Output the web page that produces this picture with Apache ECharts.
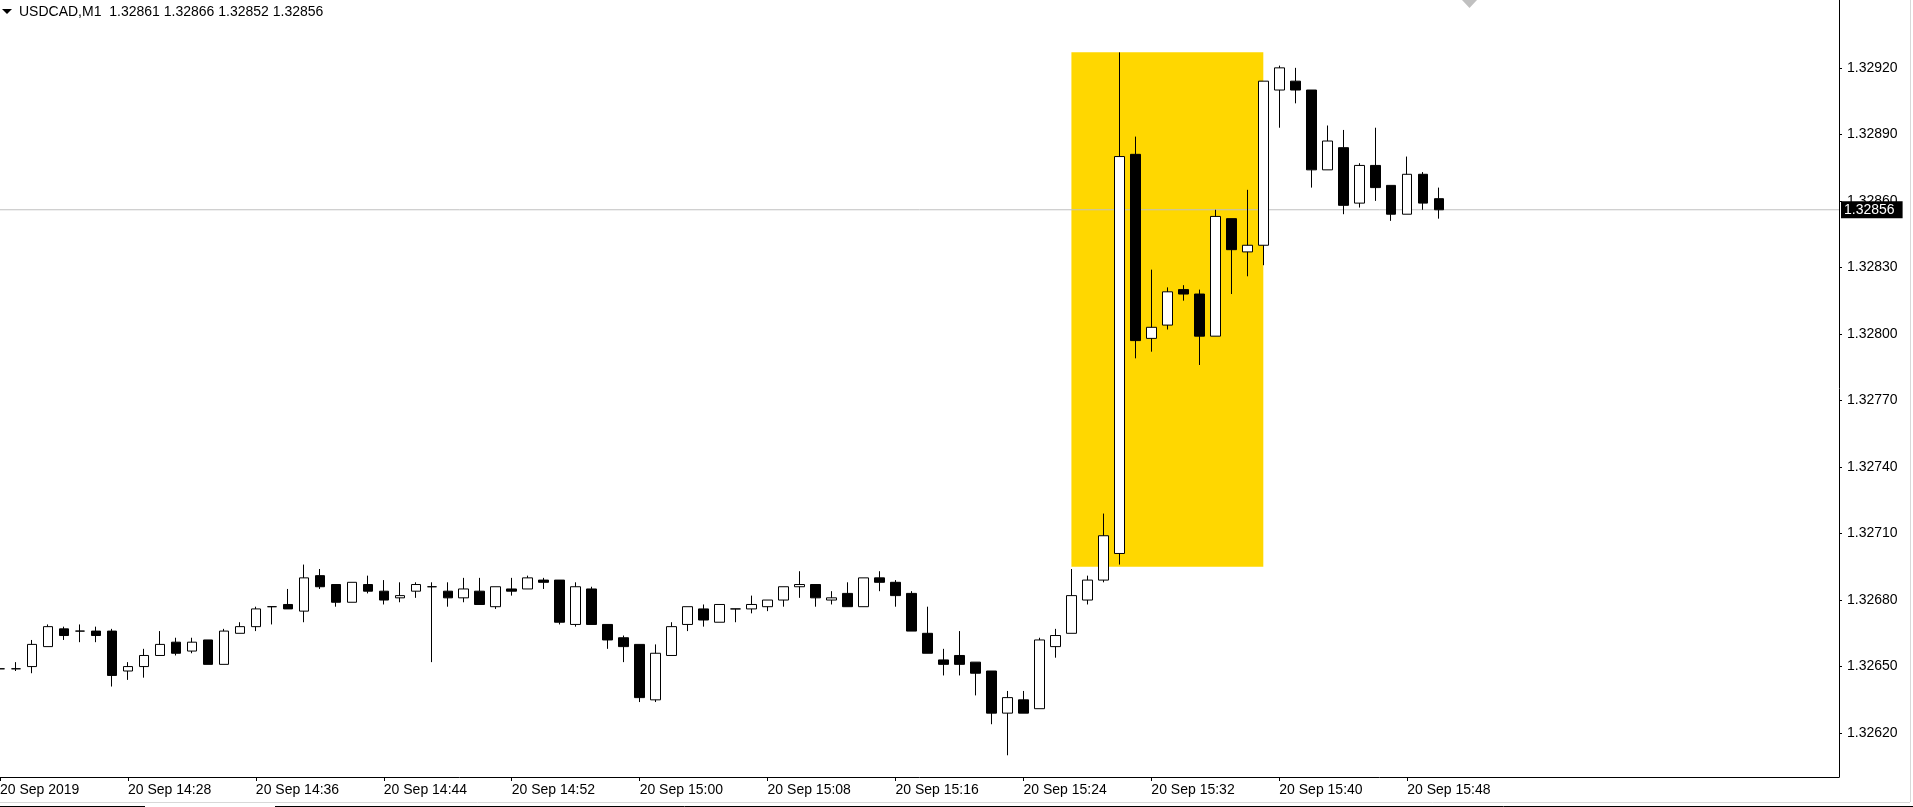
<!DOCTYPE html>
<html><head><meta charset="utf-8">
<script src="https://cdn.jsdelivr.net/npm/echarts@6/dist/echarts.min.js"></script>
<style>html,body{margin:0;padding:0;background:#fff;overflow:hidden}#c{width:1913px;height:807px}</style>
</head><body><div id="c"></div>
<script>
const symbolName = 'USDCAD,M1';
const datePrefix = '20 Sep';
const firstLabel = '20 Sep 2019';

const times = [
'14:20','14:21','14:22','14:23','14:24','14:25','14:26','14:27','14:28','14:29',
'14:30','14:31','14:32','14:33','14:34','14:35','14:36','14:37','14:38','14:39',
'14:40','14:41','14:42','14:43','14:44','14:45','14:46','14:47','14:48','14:49',
'14:50','14:51','14:52','14:53','14:54','14:55','14:56','14:57','14:58','14:59',
'15:00','15:01','15:02','15:03','15:04','15:05','15:06','15:07','15:08','15:09',
'15:10','15:11','15:12','15:13','15:14','15:15','15:16','15:17','15:18','15:19',
'15:20','15:21','15:22','15:23','15:24','15:25','15:26','15:27','15:28','15:29',
'15:30','15:31','15:32','15:33','15:34','15:35','15:36','15:37','15:38','15:39',
'15:40','15:41','15:42','15:43','15:44','15:45','15:46','15:47','15:48','15:49',
'15:50','15:51','15:52','15:53','15:54','15:55','15:56','15:57','15:58','15:59',
'16:00','16:01','16:02','16:03','16:04','16:05','16:06','16:07','16:08','16:09',
'16:10','16:11','16:12','16:13','16:14','16:15'
];

const openP = [
1.32649,1.32649,1.32650,1.32659,1.32667,1.32666,1.32666,1.32666,1.32648,1.32650,
1.32655,1.32661,1.32657,1.32662,1.32651,1.32665,1.32668,1.32677,1.32678,1.32675,
1.32691,1.32687,1.32679,1.32687,1.32684,1.32681,1.32684,1.32686,1.32684,1.32681,
1.32684,1.32677,1.32685,1.32685,1.32689,1.32689,1.32669,1.32685,1.32669,1.32663,
1.32660,1.32635,1.32655,1.32669,1.32676,1.32670,1.32676,1.32676,1.32677,1.32680,
1.32686,1.32687,1.32680,1.32683,1.32677,1.32690,1.32688,1.32683,1.32665,1.32653,
1.32655,1.32652,1.32648,1.32629,1.32635,1.32631,1.32659,1.32665,1.32680,1.32689,
1.32701,1.32881,1.32798,1.32804,1.32820,1.32818,1.32799,1.32852,1.32837,1.32840,
1.32910,1.32914,1.32910,1.32874,1.32884,1.32859,1.32876,1.32867,1.32854,1.32872,
1.32861
];
const highP = [
1.32649,1.32652,1.32662,1.32669,1.32668,1.32669,1.32668,1.32667,1.32652,1.32658,
1.32666,1.32663,1.32663,1.32662,1.32667,1.32670,1.32677,1.32677,1.32685,1.32696,
1.32694,1.32687,1.32688,1.32691,1.32689,1.32688,1.32688,1.32688,1.32688,1.32690,
1.32690,1.32686,1.32690,1.32691,1.32690,1.32689,1.32688,1.32686,1.32669,1.32664,
1.32660,1.32660,1.32670,1.32677,1.32678,1.32678,1.32676,1.32682,1.32680,1.32686,
1.32693,1.32687,1.32684,1.32688,1.32690,1.32693,1.32689,1.32684,1.32677,1.32658,
1.32666,1.32652,1.32648,1.32639,1.32639,1.32663,1.32667,1.32694,1.32691,1.32719,
1.32927,1.32889,1.32829,1.32821,1.32822,1.32820,1.32856,1.32852,1.32865,1.32914,
1.32921,1.32920,1.32910,1.32894,1.32892,1.32877,1.32893,1.32867,1.32880,1.32873,
1.32866
];
const lowP = [
1.32649,1.32648,1.32647,1.32659,1.32662,1.32661,1.32661,1.32641,1.32644,1.32645,
1.32655,1.32655,1.32656,1.32651,1.32651,1.32665,1.32666,1.32669,1.32676,1.32670,
1.32685,1.32677,1.32679,1.32683,1.32678,1.32679,1.32681,1.32652,1.32677,1.32679,
1.32678,1.32676,1.32682,1.32685,1.32685,1.32669,1.32668,1.32669,1.32658,1.32652,
1.32634,1.32634,1.32655,1.32666,1.32668,1.32670,1.32670,1.32674,1.32675,1.32677,
1.32681,1.32677,1.32678,1.32677,1.32677,1.32684,1.32677,1.32666,1.32656,1.32646,
1.32646,1.32637,1.32624,1.32610,1.32629,1.32631,1.32654,1.32665,1.32678,1.32688,
1.32696,1.32789,1.32792,1.32802,1.32815,1.32786,1.32799,1.32818,1.32826,1.32831,
1.32893,1.32904,1.32866,1.32874,1.32854,1.32857,1.32860,1.32851,1.32854,1.32856,
1.32852
];
const closeP = [
1.32649,1.32649,1.32660,1.32668,1.32664,1.32666,1.32664,1.32646,1.32650,1.32655,
1.32660,1.32656,1.32661,1.32651,1.32666,1.32668,1.32676,1.32677,1.32676,1.32690,
1.32686,1.32679,1.32688,1.32684,1.32680,1.32682,1.32687,1.32686,1.32681,1.32685,
1.32678,1.32686,1.32684,1.32690,1.32688,1.32670,1.32686,1.32669,1.32662,1.32659,
1.32636,1.32656,1.32668,1.32677,1.32671,1.32678,1.32676,1.32678,1.32680,1.32686,
1.32687,1.32681,1.32681,1.32677,1.32690,1.32688,1.32682,1.32666,1.32656,1.32651,
1.32651,1.32647,1.32629,1.32636,1.32629,1.32662,1.32664,1.32682,1.32689,1.32709,
1.32880,1.32797,1.32803,1.32819,1.32818,1.32799,1.32853,1.32838,1.32840,1.32914,
1.32920,1.32910,1.32874,1.32887,1.32858,1.32876,1.32866,1.32854,1.32872,1.32859,
1.32856
];

const priceTicks = [1.3262,1.3265,1.3268,1.3271,1.3274,1.3277,1.3280,1.3283,1.3286,1.3289,1.3292];
const yMin = 1.326002, yMax = 1.329506;
const boxStart = '15:27', boxEnd = '15:39';
const boxTop = 1.32927, boxBottom = 1.32695;

const FONT = '"Liberation Sans", Arial, sans-serif';
const last = closeP.length - 1;
const lastClose = closeP[last];
const titleText = symbolName + '  ' + [openP[last], highP[last], lowP[last], closeP[last]].map(v => v.toFixed(5)).join(' ');
const candles = openP.map((o, i) => [o, closeP[i], lowP[i], highP[i]]);
const labelIdx = (i) => i % 8 === 0 && i < candles.length;
const bidLine = [[times[0], lastClose], [times[times.length - 1], lastClose]];

const chart = echarts.init(document.getElementById('c'), null, {renderer: 'canvas'});
chart.setOption({
  animation: false,
  backgroundColor: '#fff',
  grid: {left: 0, top: 0, right: 74, bottom: 30, containLabel: false, outerBoundsMode: 'none'},
  xAxis: {
    type: 'category', data: times, boundaryGap: false,
    axisLine: {show: true, lineStyle: {color: '#000', width: 1}},
    axisTick: {show: true, length: 4, interval: (i) => labelIdx(i), lineStyle: {color: '#000'}},
    axisLabel: {
      interval: (i) => labelIdx(i),
      formatter: (v, i) => i === 0 ? firstLabel : datePrefix + ' ' + v,
      align: 'left', color: '#000', fontSize: 14, fontFamily: FONT, margin: 6
    },
    splitLine: {show: false}
  },
  yAxis: {
    type: 'value', position: 'right', min: yMin, max: yMax, scale: true,
    axisLine: {show: true, lineStyle: {color: '#000', width: 1}},
    axisTick: {show: true, length: 3, customValues: priceTicks, lineStyle: {color: '#000'}},
    axisLabel: {customValues: priceTicks, formatter: (v) => v.toFixed(5), color: '#000', fontSize: 14, fontFamily: FONT, margin: 8},
    splitLine: {show: false}
  },
  series: [{
    type: 'candlestick',
    data: candles,
    barWidth: 10,
    z: 3,
    itemStyle: {color: '#fff', color0: '#000', borderColor: '#000', borderColor0: '#000', borderWidth: 1},
    emphasis: {disabled: true},
    markArea: {
      silent: true, z: 1,
      itemStyle: {color: '#FFD700', opacity: 1, borderWidth: 0},
      data: [[{xAxis: boxStart, yAxis: boxTop}, {xAxis: boxEnd, yAxis: boxBottom}]]
    }
  }, {
    type: 'line',
    data: bidLine,
    z: 2,
    silent: true,
    symbol: 'none',
    showSymbol: false,
    clip: false,
    lineStyle: {color: '#c0c0c0', width: 1},
    emphasis: {disabled: true},
    endLabel: {
      show: true, distance: 2,
      formatter: () => lastClose.toFixed(5),
      backgroundColor: '#000', color: '#fff', fontSize: 14, fontFamily: FONT,
      lineHeight: 14, padding: [2, 8, 1, 3]
    }
  }],
  graphic: [
    {type: 'polygon', shape: {points: [[2, 9], [12, 9], [7, 14]]}, style: {fill: '#000'}, silent: true},
    {type: 'text', x: 19, y: 12, style: {text: titleText, fill: '#000', font: '14px ' + FONT, verticalAlign: 'middle', align: 'left'}, silent: true},
    {type: 'polygon', shape: {points: [[1462, 0], [1477, 0], [1469.5, 8]]}, style: {fill: '#c0c0c0'}, silent: true},
    {type: 'line', shape: {x1: 1910.5, y1: 0, x2: 1910.5, y2: 802}, style: {stroke: '#d8d8d8', lineWidth: 1}, silent: true},
    {type: 'line', shape: {x1: 0, y1: 802.5, x2: 1910, y2: 802.5}, style: {stroke: '#d8d8d8', lineWidth: 1}, silent: true},
    {type: 'line', shape: {x1: 0, y1: 806.5, x2: 145, y2: 806.5}, style: {stroke: '#000', lineWidth: 1}, silent: true},
    {type: 'line', shape: {x1: 275, y1: 806.5, x2: 1913, y2: 806.5}, style: {stroke: '#000', lineWidth: 1}, silent: true}
  ]
});
</script>
</body></html>
